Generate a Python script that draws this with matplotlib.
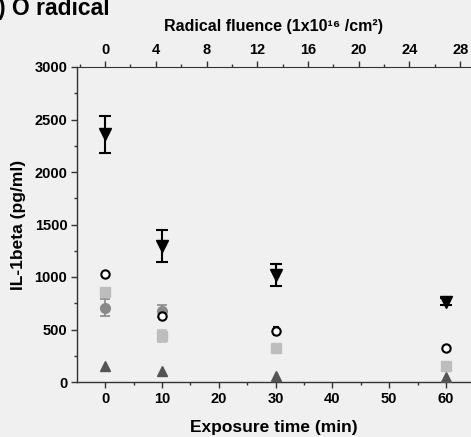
import matplotlib
matplotlib.use("Agg")
import matplotlib.pyplot as plt
from matplotlib.ticker import MultipleLocator
import numpy as np

plt.rcParams['font.family'] = ['Liberation Sans', 'DejaVu Sans']
plt.rcParams['font.weight'] = 'bold'

time = [0, 10, 30, 60]
fluence_per_min = 0.448

tri_down = [2360, 1295, 1020, 765]
tri_down_err = [175, 150, 105, 35]

open_circ = [1025, 630, 486, 321]
open_circ_err = [20, 20, 35, 15]

lt_square = [860, 438, 327, 152]
lt_square_err = [30, 55, 20, 15]

gray_time = [0, 10]
gray_circ = [708, 676]
gray_circ_err = [80, 60]

tri_up = [156, 108, 57, 51]
tri_up_err = [25, 30, 20, 20]

bg = '#f0f0f0'
fig = plt.figure(figsize=(4.71, 4.37), dpi=100, facecolor=bg)
ax = fig.add_axes([77/471, 1-382/437, 1-77/471, (382-67)/437], facecolor=bg)

ax.errorbar(time, tri_up, yerr=tri_up_err, fmt='^', color='#555555', ms=7.5,
            capsize=0, elinewidth=1.2, zorder=3)
ax.errorbar(gray_time, gray_circ, yerr=gray_circ_err, fmt='o', color='#8a8a8a', ms=7,
            capsize=3.5, elinewidth=1.2, capthick=1.2, zorder=3)
ax.errorbar(time, lt_square, yerr=lt_square_err, fmt='s', color='#bdbdbd', ms=6.5,
            capsize=3.5, elinewidth=1.2, capthick=1.2, zorder=3)
ax.errorbar(time, open_circ, yerr=open_circ_err, fmt='o', color='black', mfc='white',
            mec='black', mew=1.5, ms=6, capsize=2.5, elinewidth=1, zorder=4)
ax.errorbar(time, tri_down, yerr=tri_down_err, fmt='v', color='black', ms=9,
            capsize=4, elinewidth=1.5, capthick=1.5, zorder=5)

ax.set_xlim(-4.95, 64.4)
ax.set_ylim(0, 3000)
ax.xaxis.set_major_locator(MultipleLocator(10))
ax.xaxis.set_minor_locator(MultipleLocator(5))
ax.yaxis.set_major_locator(MultipleLocator(500))
ax.yaxis.set_minor_locator(MultipleLocator(250))

ax.spines['right'].set_visible(False)
ax.spines['top'].set_visible(False)
for s in ['left', 'bottom']:
    ax.spines[s].set_color('#333333')
    ax.spines[s].set_linewidth(1.0)

ax.tick_params(which='major', direction='out', length=4, width=1, color='#333333',
               labelsize=10.5, pad=3)
ax.tick_params(which='minor', direction='out', length=2.5, width=1, color='#333333')
for lab in ax.get_xticklabels() + ax.get_yticklabels():
    lab.set_fontweight('bold')

ax.set_xlabel('Exposure time (min)', fontsize=12.5, fontweight='bold', labelpad=10)
ax.set_ylabel('IL-1beta (pg/ml)', fontsize=12.5, fontweight='bold', labelpad=6)

sec = ax.secondary_xaxis('top', functions=(lambda t: t*fluence_per_min,
                                           lambda f: f/fluence_per_min))
sec.xaxis.set_major_locator(MultipleLocator(4))
sec.xaxis.set_minor_locator(MultipleLocator(2))
sec.spines['top'].set_color('#333333')
sec.tick_params(which='major', direction='out', length=4, width=1, color='#333333',
                labelsize=10.5, pad=3)
sec.tick_params(which='minor', direction='out', length=2.5, width=1, color='#333333')
for lab in sec.get_xticklabels():
    lab.set_fontweight('bold')
sec.set_xlabel('Radical fluence (1x10\u00b9\u2076 /cm\u00b2)', fontsize=11.5,
               fontweight='bold', labelpad=9)

fig.text(-0.004, 1.006, ') O radical', fontsize=16.5, fontweight='bold',
         ha='left', va='top')

fig.savefig('out.png', dpi=100, facecolor=bg)
